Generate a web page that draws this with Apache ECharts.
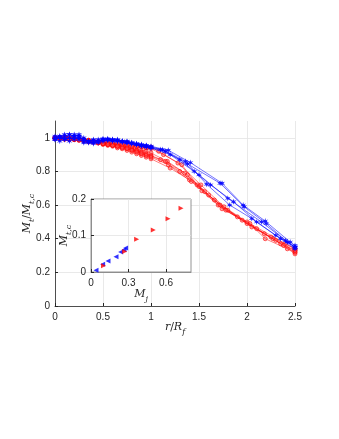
<!DOCTYPE html>
<html>
<head>
<meta charset="utf-8">
<script src="https://cdn.jsdelivr.net/npm/echarts@6.0.0/dist/echarts.min.js"></script>
<style>
  html, body { margin: 0; padding: 0; background: #fff; }
  #chart { width: 339px; height: 439px; }
</style>
</head>
<body>
<div id="chart"></div>
<script>
"use strict";

// r/R_f sample points of the dense part (same for every run)
var rHead = [0, 0.05, 0.1, 0.15, 0.2, 0.25, 0.3, 0.35, 0.4, 0.45, 0.5,
             0.55, 0.6, 0.65, 0.7, 0.75, 0.8, 0.85, 0.9, 0.95, 1.0];

// blue runs: dense head values, then sparse [r, M_t/M_tc] tail points
var blueHeads = [
    [1.00, 1.01, 0.99, 1.02, 1.01, 1.00, 0.99, 0.98, 0.99, 0.98, 0.985, 0.99, 0.99, 0.985, 0.98, 0.975, 0.97, 0.965, 0.96, 0.955, 0.95],
    [0.99, 1.00, 1.02, 1.00, 0.99, 1.01, 0.98, 0.97, 0.975, 0.99, 0.995, 0.99, 0.985, 0.99, 0.98, 0.98, 0.97, 0.965, 0.96, 0.955, 0.945],
    [1.00, 0.98, 1.01, 1.02, 1.00, 0.99, 0.97, 0.98, 0.965, 0.98, 0.99, 0.985, 0.98, 0.985, 0.975, 0.97, 0.965, 0.96, 0.955, 0.95, 0.94],
    [1.01, 1.00, 0.99, 1.00, 1.02, 1.01, 0.99, 0.975, 0.97, 0.98, 0.99, 0.995, 0.99, 0.98, 0.975, 0.97, 0.97, 0.96, 0.955, 0.945, 0.94],
    [0.99, 1.01, 1.00, 0.98, 1.01, 1.02, 1.00, 0.98, 0.985, 0.97, 0.98, 0.99, 0.985, 0.98, 0.98, 0.975, 0.965, 0.96, 0.95, 0.95, 0.945]
];
var blueTails = [
    [[1.18, 0.926], [1.41, 0.853], [1.74, 0.73], [1.96, 0.60], [2.19, 0.505], [2.45, 0.38], [2.5, 0.36]],
    [[1.12, 0.93], [1.36, 0.86], [1.58, 0.724], [1.82, 0.60], [2.05, 0.52], [2.3, 0.42], [2.5, 0.35]],
    [[1.15, 0.92], [1.38, 0.845], [1.72, 0.73], [1.97, 0.59], [2.2, 0.49], [2.42, 0.38], [2.5, 0.35]],
    [[1.2, 0.90], [1.45, 0.80], [1.62, 0.72], [1.86, 0.62], [2.1, 0.50], [2.35, 0.40], [2.5, 0.34]],
    [[1.1, 0.93], [1.3, 0.87], [1.5, 0.78], [1.8, 0.64], [2.15, 0.50], [2.4, 0.39], [2.5, 0.35]]
];

// red runs
var redHeads = [
    [1.00, 1.00, 1.00, 0.995, 0.99, 0.99, 0.99, 0.985, 0.98, 0.975, 0.975, 0.97, 0.965, 0.96, 0.96, 0.955, 0.95, 0.945, 0.945, 0.94, 0.935],
    [1.00, 1.00, 0.995, 1.00, 0.99, 0.99, 0.985, 0.98, 0.98, 0.975, 0.97, 0.965, 0.96, 0.955, 0.95, 0.945, 0.94, 0.93, 0.925, 0.92, 0.91],
    [0.995, 1.00, 1.00, 0.99, 0.995, 0.99, 0.985, 0.985, 0.975, 0.97, 0.965, 0.96, 0.955, 0.95, 0.945, 0.935, 0.93, 0.92, 0.91, 0.90, 0.89],
    [1.00, 0.995, 1.00, 1.00, 0.99, 0.985, 0.985, 0.98, 0.975, 0.97, 0.96, 0.955, 0.95, 0.94, 0.935, 0.925, 0.915, 0.905, 0.895, 0.885, 0.875],
    [1.00, 1.00, 0.99, 0.995, 0.99, 0.99, 0.985, 0.975, 0.975, 0.97, 0.965, 0.96, 0.955, 0.95, 0.945, 0.94, 0.93, 0.925, 0.915, 0.905, 0.895],
    [1.00, 1.00, 1.005, 1.00, 0.995, 0.99, 0.99, 0.985, 0.98, 0.98, 0.975, 0.97, 0.97, 0.965, 0.96, 0.955, 0.95, 0.95, 0.945, 0.94, 0.945],
    [0.995, 1.00, 0.995, 0.99, 0.99, 0.985, 0.98, 0.98, 0.975, 0.97, 0.965, 0.96, 0.955, 0.95, 0.94, 0.935, 0.925, 0.915, 0.905, 0.895, 0.885]
];
var redTails = [
    [[1.13, 0.90], [1.32, 0.84], [1.53, 0.685], [1.74, 0.578], [2.03, 0.49], [2.19, 0.40], [2.42, 0.34], [2.5, 0.32]],
    [[1.17, 0.86], [1.38, 0.78], [1.6, 0.66], [1.8, 0.57], [2.0, 0.49], [2.27, 0.40], [2.5, 0.33]],
    [[1.1, 0.87], [1.3, 0.80], [1.48, 0.72], [1.7, 0.60], [1.95, 0.51], [2.25, 0.41], [2.5, 0.34]],
    [[1.2, 0.82], [1.4, 0.75], [1.56, 0.68], [1.78, 0.57], [2.05, 0.47], [2.3, 0.39], [2.5, 0.31]],
    [[1.15, 0.86], [1.35, 0.79], [1.5, 0.71], [1.72, 0.60], [2.1, 0.46], [2.35, 0.37], [2.5, 0.32]],
    [[1.08, 0.92], [1.28, 0.85], [1.52, 0.72], [1.76, 0.59], [2.0, 0.50], [2.4, 0.37], [2.5, 0.34]],
    [[1.18, 0.84], [1.42, 0.74], [1.66, 0.63], [1.9, 0.53], [2.18, 0.43], [2.38, 0.36], [2.5, 0.33]]
];

// inset: M_j vs M_tc
var insetBlue = [[0.04, 0.005], [0.093, 0.021], [0.136, 0.030], [0.2, 0.042], [0.237, 0.055], [0.264, 0.061], [0.277, 0.066]];
var insetRed = [[0.10, 0.017], [0.269, 0.056], [0.365, 0.090], [0.498, 0.115], [0.616, 0.146], [0.72, 0.175]];

var axisCol = '#262626';
var gridCol = '#e3e3e3';
var tickFont = { color: axisCol, fontSize: 10, fontFamily: 'Liberation Sans' };
var starPath = 'path://M0,-10 L2,-3 L9,-5 L4,0 L9,5 L2,3 L0,10 L-2,3 L-9,5 L-4,0 L-9,-5 L-2,-3 Z';

function mathRich(size) {
    return {
        i: { fontFamily: 'DejaVu Serif', fontStyle: 'italic', fontSize: size, color: axisCol, lineHeight: 18, verticalAlign: 'middle' },
        n: { fontFamily: 'DejaVu Serif', fontSize: size, color: axisCol, lineHeight: 18, verticalAlign: 'middle' },
        s: { fontFamily: 'DejaVu Serif', fontStyle: 'italic', fontSize: size - 3, color: axisCol, lineHeight: 18, verticalAlign: 'bottom' }
    };
}

function runData(head, tail) {
    return rHead.map(function (r, i) { return [r, head[i]]; }).concat(tail);
}

var series = [];
redHeads.forEach(function (h, k) {
    series.push({
        type: 'line', xAxisIndex: 0, yAxisIndex: 0, z: 2,
        data: runData(h, redTails[k]),
        symbol: 'circle', symbolSize: 4,
        lineStyle: { color: 'rgba(255,0,0,0.5)', width: 1 },
        itemStyle: { color: 'rgba(255,80,80,0.45)', borderColor: 'rgba(255,0,0,0.75)', borderWidth: 0.8 },
        animation: false
    });
});
blueHeads.forEach(function (h, k) {
    series.push({
        type: 'line', xAxisIndex: 0, yAxisIndex: 0, z: 3,
        data: runData(h, blueTails[k]),
        symbol: starPath, symbolSize: 6,
        lineStyle: { color: 'rgba(0,0,255,0.55)', width: 1 },
        itemStyle: { color: 'rgba(0,0,255,0.85)' },
        animation: false
    });
});
series.push({
    type: 'scatter', xAxisIndex: 1, yAxisIndex: 1, z: 10,
    data: insetBlue, symbol: 'triangle', symbolRotate: 90, symbolSize: 5,
    itemStyle: { color: '#0000ff' }, animation: false
});
series.push({
    type: 'scatter', xAxisIndex: 1, yAxisIndex: 1, z: 10,
    data: insetRed, symbol: 'triangle', symbolRotate: -90, symbolSize: 5,
    itemStyle: { color: '#ff0000' }, animation: false
});

var myChart = echarts.init(document.getElementById('chart'), null, { renderer: 'canvas' });

var option = {
    backgroundColor: '#fff',
    animation: false,
    grid: [
        { left: 55, top: 121, width: 240, height: 185 },
        { left: 91, top: 199, width: 100, height: 73, show: true, z: 5,
          backgroundColor: '#fff', borderColor: '#7a7a7a', borderWidth: 0.8 }
    ],
    xAxis: [
        {
            gridIndex: 0, type: 'value', min: 0, max: 2.5, interval: 0.5,
            name: '{i|r}{n|/}{i|R}{s|f}', nameLocation: 'middle', nameGap: 12, nameMoveOverlap: false,
            nameTextStyle: { rich: mathRich(11) },
            axisLine: { lineStyle: { color: axisCol, width: 0.8 } },
            axisTick: { inside: true, length: 3, lineStyle: { color: axisCol } },
            axisLabel: Object.assign({ margin: 6 }, tickFont),
            splitLine: { lineStyle: { color: gridCol, width: 0.8 } }
        },
        {
            gridIndex: 1, type: 'value', min: 0, max: 0.8, interval: 0.3, z: 6,
            name: '{i|M}{s|j}', nameLocation: 'middle', nameGap: 13, nameMoveOverlap: false,
            nameTextStyle: { rich: mathRich(11) },
            axisLine: { lineStyle: { color: '#7a7a7a', width: 0.8 } },
            axisTick: { inside: true, length: 3, lineStyle: { color: axisCol } },
            axisLabel: Object.assign({ margin: 6, showMaxLabel: false }, tickFont),
            splitLine: { lineStyle: { color: gridCol, width: 0.8 }, showMaxLine: false }
        }
    ],
    yAxis: [
        {
            gridIndex: 0, type: 'value', min: 0, max: 1.1, interval: 0.2,
            name: '{i|M}{s|t}{n|/}{i|M}{s|t,c}', nameLocation: 'middle', nameGap: 19, nameMoveOverlap: false,
            nameTextStyle: { rich: mathRich(11) },
            axisLine: { show: true, lineStyle: { color: axisCol, width: 0.8 } },
            axisTick: { show: true, inside: true, length: 3, lineStyle: { color: axisCol } },
            axisLabel: Object.assign({ margin: 5, showMaxLabel: false }, tickFont),
            splitLine: { lineStyle: { color: gridCol, width: 0.8 }, showMaxLine: false }
        },
        {
            gridIndex: 1, type: 'value', min: 0, max: 0.2, interval: 0.1, z: 6,
            name: '{i|M}{s|t,c}', nameLocation: 'middle', nameGap: 18, nameMoveOverlap: false,
            nameTextStyle: { rich: mathRich(11) },
            axisLine: { show: true, lineStyle: { color: '#7a7a7a', width: 0.8 } },
            axisTick: { show: true, inside: true, length: 3, lineStyle: { color: axisCol } },
            axisLabel: Object.assign({ margin: 5 }, tickFont),
            splitLine: { lineStyle: { color: gridCol, width: 0.8 } }
        }
    ],
    series: series
};

if (option && typeof option === 'object') {
    myChart.setOption(option);
}
</script>
</body>
</html>
